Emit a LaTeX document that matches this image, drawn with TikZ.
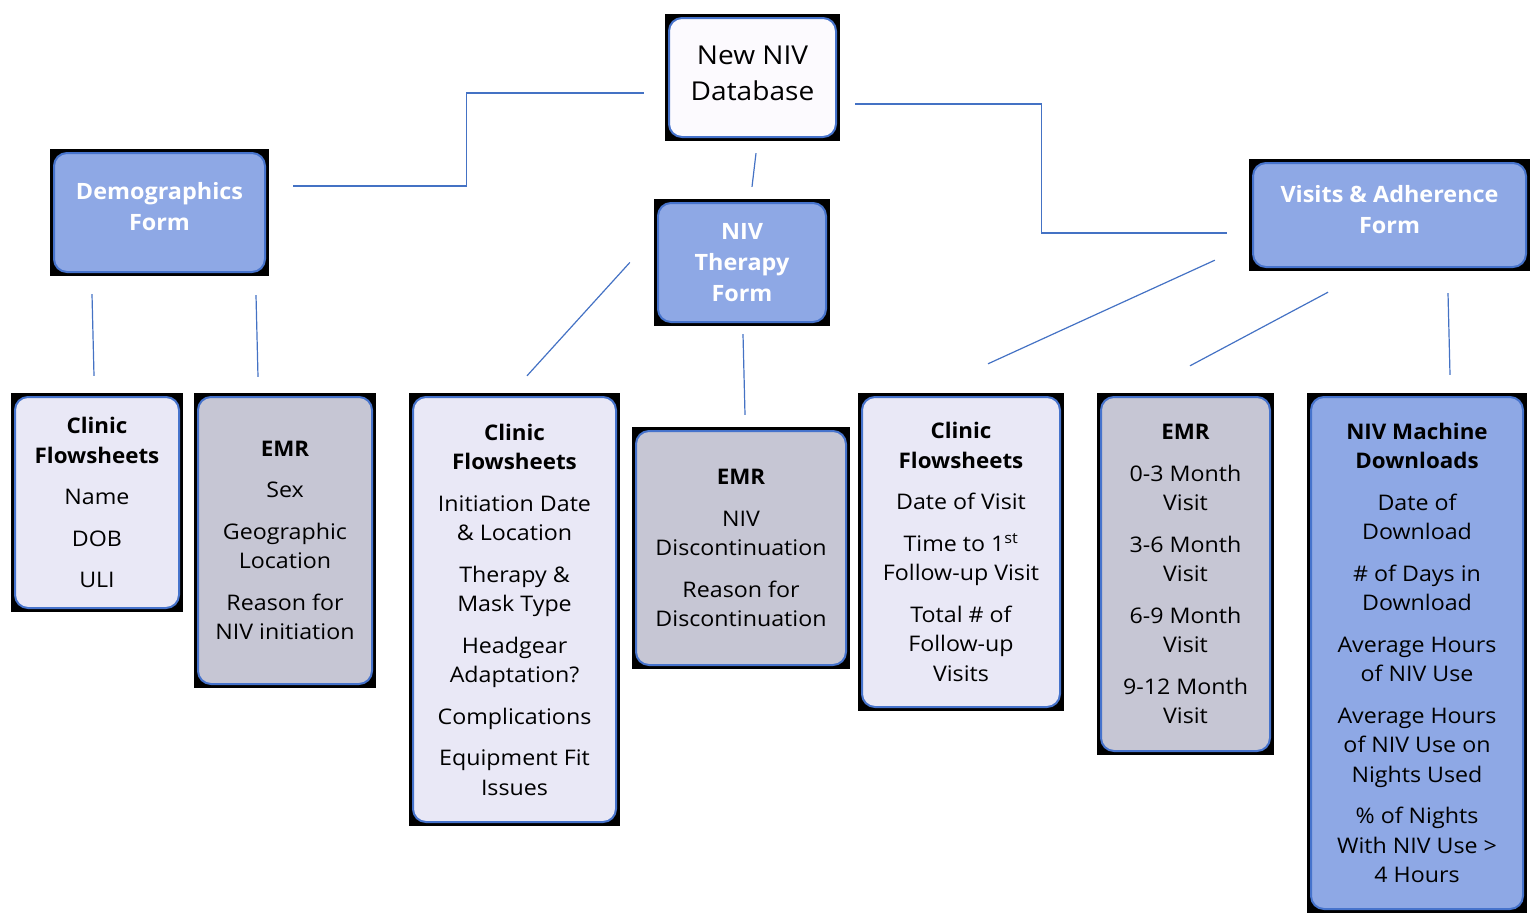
\documentclass[tikz,border=0pt]{standalone}
\usepackage{fontspec}
\setmainfont{Open Sans}[FakeStretch=1.08, BoldFeatures={FakeStretch=1.04}]
\usetikzlibrary{positioning}

\definecolor{formblue}{HTML}{8EA8E5}
\definecolor{sheetlav}{HTML}{E9E8F6}
\definecolor{emrgrey}{HTML}{C6C6D4}
\definecolor{dbwhite}{HTML}{FCFAFE}
\definecolor{edgeblue}{HTML}{4673CC}
\definecolor{linkblue}{HTML}{4472C4}

\newcommand\bodysize{\fontsize{21.5}{29.5}\selectfont}

\tikzset{
    card/.style={rectangle, fill=black, inner sep=0pt, align=center, text=black,
        font=\bodysize,
        path picture={\draw[edgeblue, line width=2pt, fill=#1, rounded corners=13pt]
            ([shift={(4pt,4pt)}]path picture bounding box.south west) rectangle
            ([shift={(-4pt,-4pt)}]path picture bounding box.north east);}},
    form/.style={card=formblue, text=white, font=\fontsize{22.5}{31}\selectfont\bfseries},
    sheet/.style={card=sheetlav},
    emrbox/.style={card=emrgrey},
    link/.style={linkblue, line width=1.2pt}
}

\begin{document}
\begin{tikzpicture}[x=1pt, y=-1pt]
    \useasboundingbox (0,0) rectangle (1530,913);

    % top level
    \node[card=dbwhite, minimum width=175pt, minimum height=127pt, text depth=8pt,
        font=\fontsize{26}{36}\selectfont] (db) at (752.5,77.5) {New NIV\\Database};
    \node[form, minimum width=219pt, minimum height=127pt, text depth=12pt] (demo) at (159.5,212.5) {Demographics\\Form};
    \node[form, minimum width=176pt, minimum height=127pt] (niv) at (742,262.5) {NIV\\Therapy\\Form};
    \node[form, minimum width=281pt, minimum height=112pt, text depth=12pt] (visits) at (1389.5,215) {Visits \& Adherence\\Form};

    % sources
    \node[sheet, minimum width=172pt, minimum height=219pt] (cf1) at (97,502.5) {\textbf{Clinic}\\\textbf{Flowsheets}\\[12pt]Name\\[12pt]DOB\\[12pt]ULI};
    \node[emrbox, minimum width=182pt, minimum height=295pt] (emr1) at (285,540.5) {\textbf{EMR}\\[12pt]Sex\\[12pt]Geographic\\Location\\[12pt]Reason for\\NIV initiation};
    \node[sheet, minimum width=211pt, minimum height=433pt] (cf2) at (514.5,609.5) {\textbf{Clinic}\\\textbf{Flowsheets}\\[12pt]Initiation Date\\\& Location\\[12pt]Therapy \&\\Mask Type\\[12pt]Headgear\\Adaptation?\\[12pt]Complications\\[12pt]Equipment Fit\\Issues};
    \node[emrbox, minimum width=218pt, minimum height=242pt] (emr2) at (741,548) {\textbf{EMR}\\[12pt]NIV\\Discontinuation\\[12pt]Reason for\\Discontinuation};
    \node[sheet, minimum width=206pt, minimum height=318pt] (cf3) at (961,552) {\textbf{Clinic}\\\textbf{Flowsheets}\\[12pt]Date of Visit\\[12pt]Time to 1\textsuperscript{st}\\Follow-up Visit\\[12pt]Total \# of\\Follow-up\\Visits};
    \node[emrbox, minimum width=177pt, minimum height=362pt] (emr3) at (1185.5,574) {\textbf{EMR}\\[12pt]0-3 Month\\Visit\\[12pt]3-6 Month\\Visit\\[12pt]6-9 Month\\Visit\\[12pt]9-12 Month\\Visit};
    \node[card=formblue, minimum width=220pt, minimum height=520pt] (nivm) at (1417,653) {\textbf{NIV Machine}\\\textbf{Downloads}\\[12pt]Date of\\Download\\[12pt]\# of Days in\\Download\\[12pt]Average Hours\\of NIV Use\\[12pt]Average Hours\\of NIV Use on\\Nights Used\\[12pt]\% of Nights\\With NIV Use >\\4 Hours};

    % links
    \draw[link] ([shift={(24pt,26.5pt)}]demo.east) -- ++(173,0) |- ([shift={(-21pt,-15.5pt)}]db.west);
    \draw[link] ([shift={(15pt,-26.5pt)}]db.east) -- ++(186,0) |- ([shift={(-22pt,-18pt)}]visits.west);
    \draw[link] ([shift={(3.5pt,-12pt)}]db.south) -- ([shift={(10pt,12pt)}]niv.north);
    \draw[link] ([shift={(-67.5pt,-18pt)}]demo.south) -- ([shift={(-3pt,17pt)}]cf1.north);
    \draw[link] ([shift={(96.5pt,-19pt)}]demo.south) -- ([shift={(-27pt,16pt)}]emr1.north);
    \draw[link] ([shift={(-24pt,0pt)}]niv.west) -- ([shift={(12.5pt,17pt)}]cf2.north);
    \draw[link] ([shift={(1pt,-8pt)}]niv.south) -- ([shift={(4pt,12pt)}]emr2.north);
    \draw[link] ([shift={(-34pt,11pt)}]visits.south west) -- ([shift={(27pt,29pt)}]cf3.north);
    \draw[link] ([shift={(-61.5pt,-21pt)}]visits.south) -- ([shift={(4.5pt,27pt)}]emr3.north);
    \draw[link] ([shift={(58.5pt,-22pt)}]visits.south) -- ([shift={(33pt,18pt)}]nivm.north);
\end{tikzpicture}
\end{document}
